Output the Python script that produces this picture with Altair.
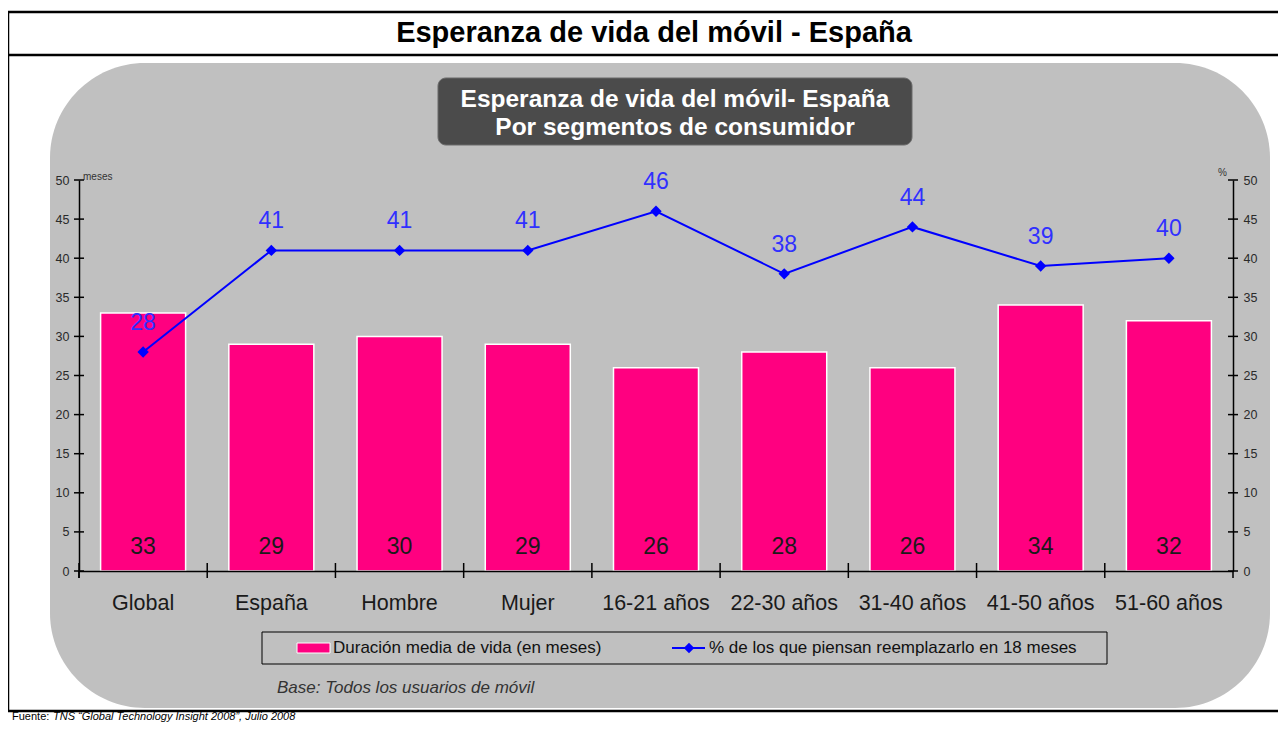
import altair as alt
import pandas as pd

# ---------------- data ----------------
categories = ["Global", "España", "Hombre", "Mujer", "16-21 años",
              "22-30 años", "31-40 años", "41-50 años", "51-60 años"]
duracion = [33, 29, 30, 29, 26, 28, 26, 34, 32]          # meses (barras)
porcentaje = [28, 41, 41, 41, 46, 38, 44, 39, 40]        # % (línea)
axis_ticks = [0, 5, 10, 15, 20, 25, 30, 35, 40, 45, 50]

title_text = "Esperanza de vida del móvil - España"
box_line1 = "Esperanza de vida del móvil- España"
box_line2 = "Por segmentos de consumidor"
legend_bar = "Duración media de vida (en meses)"
legend_line = "% de los que piensan reemplazarlo en 18 meses"
base_text = "Base: Todos los usuarios de móvil"
source_a = "Fuente:"
source_b = "TNS “Global Technology Insight 2008”, Julio 2008"

# ---------------- layout ----------------
W, H = 1154, 391
PL, PT, PR, PB = 71, 172, 45, 154
OX, OY = 8 + PL, 8 + PT


def px(v):
    return v - OX


def py(v):
    return v - OY


FONT = "Liberation Sans"
PINK = "#ff0080"
BLUE = "#0000ff"
GRAY = "#c0c0c0"

df = pd.DataFrame({"cat": categories, "dur": duracion, "pct": porcentaje})
ticks_df = pd.DataFrame({"t": axis_ticks})
one = pd.DataFrame({"k": [0]})

xscale = alt.Scale(domain=categories, paddingInner=0.337, paddingOuter=0.1685)
xaxis = alt.Axis(title=None, labelAngle=0, labelFont=FONT, labelFontSize=21.5,
                 labelColor="#1a1a1a", labelPadding=21, ticks=False, tickSize=0,
                 domain=True, domainColor="black", domainWidth=1.5, grid=False,
                 zindex=1, labelLimit=300)
X = alt.X("cat:N", sort=categories, scale=xscale, axis=xaxis, title=None)


def yscale():
    return alt.Scale(domain=[0, 50], nice=False, zero=True)


def yaxis(orient):
    return alt.Axis(orient=orient, values=axis_ticks, title=None, labelFont=FONT,
                    labelFontSize=12.5, labelColor="#2a2a2a", labelPadding=10,
                    ticks=False, tickSize=0, domain=True, domainColor="black",
                    domainWidth=1.5, grid=False, zindex=1)


def hline(y, x1, x2, w=2.5, color="black"):
    return alt.Chart(one).mark_rule(color=color, strokeWidth=w).encode(
        x=alt.value(px(x1)), x2=alt.value(px(x2)), y=alt.value(py(y)))


def vline(x, y1, y2, w=2.5, color="black"):
    return alt.Chart(one).mark_rule(color=color, strokeWidth=w).encode(
        x=alt.value(px(x)), y=alt.value(py(y1)), y2=alt.value(py(y2)))


def label(text, x, y, size, color="black", weight="normal", style="normal",
          align="center", baseline="middle"):
    return alt.Chart(one).mark_text(
        text=text, font=FONT, fontSize=size, color=color, fontWeight=weight,
        fontStyle=style, align=align, baseline=baseline).encode(
        x=alt.value(px(x)), y=alt.value(py(y)))


# ---------------- decorations ----------------
frame = [
    hline(12, 7, 1300),
    hline(55, 7, 1300),
    hline(711, 7, 1300),
    vline(8, 11, 712),
]

gray_bg = alt.Chart(one).mark_rect(color=GRAY, cornerRadius=95).encode(
    x=alt.value(px(50)), x2=alt.value(px(1270)),
    y=alt.value(py(63)), y2=alt.value(py(708)))

dark_box = alt.Chart(one).mark_rect(color="#4b4b4b", cornerRadius=8,
                                    stroke="#6a6a6a", strokeWidth=1).encode(
    x=alt.value(px(438)), x2=alt.value(px(912)),
    y=alt.value(py(78)), y2=alt.value(py(145)))

texts = [
    label(title_text, 654, 33, 29, weight="bold"),
    label(box_line1, 675, 100, 24.5, color="white", weight="bold"),
    label(box_line2, 675, 128, 24.5, color="white", weight="bold"),
    label("meses", 83, 177, 10, color="#333", align="left"),
    label("%", 1218, 173, 10, color="#333", align="left"),
    label(base_text, 277, 688, 17, color="#333", style="italic", align="left"),
    label(source_a, 12, 722, 11, align="left", baseline="bottom"),
    label(source_b, 53, 722, 11, style="italic", align="left", baseline="bottom"),
]

legend_box = alt.Chart(one).mark_rect(fillOpacity=0, stroke="black",
                                      strokeWidth=1).encode(
    x=alt.value(px(262)), x2=alt.value(px(1107)),
    y=alt.value(py(632)), y2=alt.value(py(664)))
legend_swatch = alt.Chart(one).mark_rect(color=PINK, stroke="white",
                                         strokeWidth=1).encode(
    x=alt.value(px(297)), x2=alt.value(px(330)),
    y=alt.value(py(643)), y2=alt.value(py(653)))
legend_linemark = hline(648, 672, 705, w=2, color=BLUE)
legend_diamond = alt.Chart(one).mark_point(shape="diamond", filled=True,
                                           size=110, color=BLUE, opacity=1).encode(
    x=alt.value(px(689)), y=alt.value(py(648)))
legend_texts = [
    label(legend_bar, 333, 648, 17, color="#111", align="left"),
    label(legend_line, 709, 648, 17, color="#111", align="left"),
]

# ---------------- data layers ----------------
base = alt.Chart(df)

bars = base.mark_bar(color=PINK, stroke="white", strokeWidth=1.5).encode(
    x=X, y=alt.Y("dur:Q", scale=yscale(), axis=yaxis("left"), title=None))

bar_labels = base.mark_text(font=FONT, fontSize=23, color="#1a1a1a",
                            baseline="middle").encode(
    x=X, y=alt.value(py(547)), text="dur:Q")

line = base.mark_line(color=BLUE, strokeWidth=2).encode(
    x=X, y=alt.Y("pct:Q", scale=yscale(), axis=yaxis("right"), title=None))

points = base.mark_point(shape="diamond", filled=True, size=130, color=BLUE,
                         opacity=1).encode(
    x=X, y=alt.Y("pct:Q", scale=yscale(), axis=None))

line_labels = base.mark_text(font=FONT, fontSize=23, color="#3030ff", dy=-29,
                             baseline="middle").encode(
    x=X, y=alt.Y("pct:Q", scale=yscale(), axis=None), text="pct:Q")

left_ticks = alt.Chart(ticks_df).mark_rule(color="black", strokeWidth=1.5).encode(
    y=alt.Y("t:Q", scale=yscale(), axis=None),
    x=alt.value(-5), x2=alt.value(5))

right_ticks = alt.Chart(ticks_df).mark_rule(color="black", strokeWidth=1.5).encode(
    y=alt.Y("t:Q", scale=yscale(), axis=None),
    x=alt.value(W - 5), x2=alt.value(W + 5))

x_ticks = base.mark_rule(color="black", strokeWidth=1.5,
                         xOffset=-(W / len(categories)) / 2).encode(
    x=X, y=alt.value(H - 8), y2=alt.value(H + 7))

end_ticks = [
    alt.Chart(one).mark_rule(color="black", strokeWidth=1.5).encode(
        x=alt.value(0), y=alt.value(H), y2=alt.value(H + 7)),
    alt.Chart(one).mark_rule(color="black", strokeWidth=1.5).encode(
        x=alt.value(W), y=alt.value(H), y2=alt.value(H + 7)),
]

layers = (frame + [gray_bg, dark_box] + texts +
          [legend_box, legend_swatch, legend_linemark, legend_diamond] +
          legend_texts +
          [bars, bar_labels, x_ticks] + end_ticks +
          [left_ticks, right_ticks, line, points, line_labels])

chart = alt.layer(*layers).resolve_scale(y="independent").properties(
    width=W, height=H,
    autosize=alt.AutoSizeParams(type="none"),
    padding={"left": PL, "top": PT, "right": PR, "bottom": PB},
    background="white",
).configure_view(strokeWidth=0).configure(font=FONT)

chart.save("out.html", embed_options={"renderer": "svg", "actions": False})
